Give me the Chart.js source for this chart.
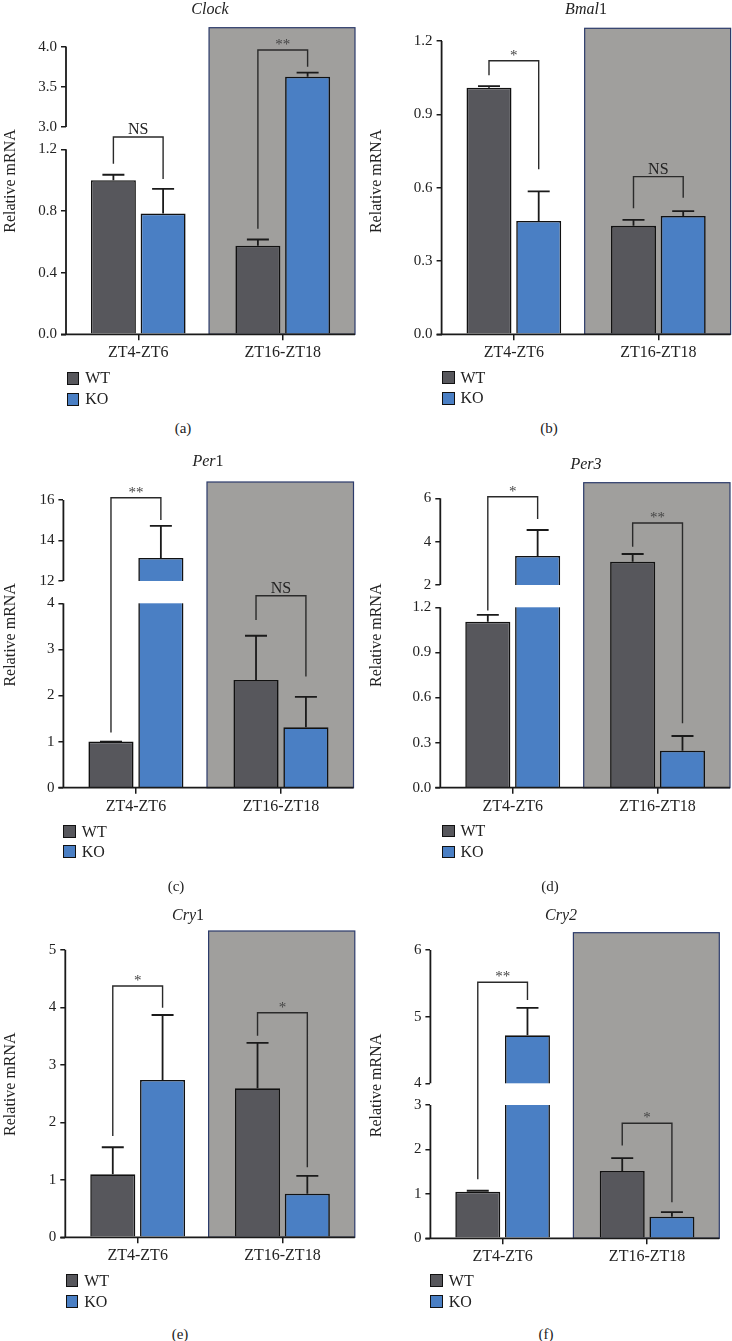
<!DOCTYPE html>
<html><head><meta charset="utf-8">
<script src="https://cdn.jsdelivr.net/npm/chart.js@4.4.0/dist/chart.umd.min.js"></script>
<style>
html,body{margin:0;padding:0;background:#fff;}
body{width:732px;height:1341px;position:relative;overflow:hidden;font-family:"Liberation Serif","Times New Roman",serif;color:#222;}
canvas{position:absolute;}
.t{position:absolute;transform:translate(-50%,-50%);white-space:nowrap;line-height:1;z-index:2;}
.ttl{font-size:16px;}
.pl{font-size:15px;}
.lg{position:absolute;display:flex;align-items:center;font-size:16px;line-height:1;transform:translateY(-50%);z-index:2;}
.sw{width:10.5px;height:10.5px;border:1px solid #111;margin-right:6px;}
</style></head><body>
<script>
// ---------- data ----------
const categories = ['ZT4-ZT6', 'ZT16-ZT18'];
const seriesNames = ['WT', 'KO'];

const clockWT = [1.00, 0.575];
const clockWTErr = [0.035, 0.04];
const clockKO = [0.783, 3.626];
const clockKOErr = [0.16, 0.05];
const clockTicks = ['0.0', '0.4', '0.8', '1.2', '3.0', '3.5', '4.0'];
const clockSig = ['NS', '**'];

const bmal1WT = [1.009, 0.444];
const bmal1WTErr = [0.006, 0.024];
const bmal1KO = [0.464, 0.484];
const bmal1KOErr = [0.121, 0.02];
const bmal1Ticks = ['0.0', '0.3', '0.6', '0.9', '1.2'];
const bmal1Sig = ['*', 'NS'];

const per1WT = [1.0, 2.336];
const per1WTErr = [0.0, 0.96];
const per1KO = [13.14, 1.31];
const per1KOErr = [1.58, 0.66];
const per1Ticks = ['0', '1', '2', '3', '4', '12', '14', '16'];
const per1Sig = ['**', 'NS'];

const per3WT = [1.104, 3.075];
const per3WTErr = [0.045, 0.355];
const per3KO = [3.338, 0.246];
const per3KOErr = [1.2, 0.098];
const per3Ticks = ['0.0', '0.3', '0.6', '0.9', '1.2', '2', '4', '6'];
const per3Sig = ['*', '**'];

const cry1WT = [1.096, 2.591];
const cry1WTErr = [0.47, 0.79];
const cry1KO = [2.736, 0.758];
const cry1KOErr = [1.13, 0.31];
const cry1Ticks = ['0', '1', '2', '3', '4', '5'];
const cry1Sig = ['*', '*'];

const cry2WT = [1.05, 1.516];
const cry2WTErr = [0.02, 0.29];
const cry2KO = [4.72, 0.487];
const cry2KOErr = [0.41, 0.1];
const cry2Ticks = ['0', '1', '2', '3', '4', '5', '6'];
const cry2Sig = ['**', '*'];

// ---------- styles / layout ----------
const WT_FILL = '#57575c';
const KO_FILL = '#4a7fc4';
const BOX_FILL = '#a09f9d';
const BOX_EDGE = '#2c3b6b';
const INK = '#1a1a1a';
const FONT = '"Liberation Serif", "Times New Roman", serif';

const panels = [
  { id: 'a', title: '<i>Clock</i>', wt: clockWT, wtErr: clockWTErr, ko: clockKO, koErr: clockKOErr, ticks: clockTicks, sig: clockSig,
    canvas: [0, 0, 366, 372], area: { x: 66, right: 355, top: 27.7, bottom: 334.3 }, max: 4.235,
    brk: { lowMax: 1.2, highMin: 3.0, lowFrac: 0.6034, highFrac: 0.6761 },
    brackets: [[2.19, 1.106, 1.008], [3.958, 0.684, 3.75]], boxFrom: 0.49,
    titlePos: [210, 9], labelPos: [183, 428], legend: [66.7, 378.3, 399.4], label: '(a)' },
  { id: 'b', title: '<i>Bmal</i>1', wt: bmal1WT, wtErr: bmal1WTErr, ko: bmal1KO, koErr: bmal1KOErr, ticks: bmal1Ticks, sig: bmal1Sig,
    canvas: [366, 0, 366, 372], area: { x: 441.6, right: 730.6, top: 28.3, bottom: 334.3 }, max: 1.252,
    brk: null,
    brackets: [[1.119, 1.060, 0.675], [0.645, 0.516, 0.559]], boxFrom: 0.49,
    titlePos: [586, 9], labelPos: [549, 428], legend: [442, 377.7, 398.3], label: '(b)' },
  { id: 'c', title: '<i>Per</i>1', wt: per1WT, wtErr: per1WTErr, ko: per1KO, koErr: per1KOErr, ticks: per1Ticks, sig: per1Sig,
    canvas: [0, 440, 366, 390], area: { x: 63.4, right: 353.5, top: 482, bottom: 787.7 }, max: 16.89,
    brk: { lowMax: 4, highMin: 12, lowFrac: 0.6032, highFrac: 0.6762 },
    brackets: [[16.11, 1.20, 15.01], [6.73, 3.64, 2.41]], boxFrom: 0.49,
    titlePos: [208, 461], labelPos: [176, 886], legend: [63.3, 831.5, 851.7], label: '(c)' },
  { id: 'd', title: '<i>Per3</i>', wt: per3WT, wtErr: per3WTErr, ko: per3KO, koErr: per3KOErr, ticks: per3Ticks, sig: per3Sig,
    canvas: [366, 440, 366, 390], area: { x: 440.3, right: 730, top: 482.7, bottom: 787.7 }, max: 6.72,
    brk: { lowMax: 1.2, highMin: 2, lowFrac: 0.5915, highFrac: 0.6646 },
    brackets: [[6.07, 1.178, 5.05], [4.86, 3.77, 0.428]], boxFrom: 0.49,
    titlePos: [586, 464], labelPos: [550, 886], legend: [442, 831, 852], label: '(d)' },
  { id: 'e', title: '<i>Cry</i>1', wt: cry1WT, wtErr: cry1WTErr, ko: cry1KO, koErr: cry1KOErr, ticks: cry1Ticks, sig: cry1Sig,
    canvas: [0, 890, 366, 390], area: { x: 65.3, right: 354.8, top: 931, bottom: 1237.3 }, max: 5.327,
    brk: null,
    brackets: [[4.37, 1.762, 3.993], [3.906, 3.506, 1.217]], boxFrom: 0.49,
    titlePos: [188, 914.5], labelPos: [180, 1334], legend: [65.7, 1280.7, 1301.7], label: '(e)' },
  { id: 'f', title: '<i>Cry2</i>', wt: cry2WT, wtErr: cry2WTErr, ko: cry2KO, koErr: cry2KOErr, ticks: cry2Ticks, sig: cry2Sig,
    canvas: [366, 890, 366, 390], area: { x: 430.4, right: 719.3, top: 932.7, bottom: 1238.3 }, max: 6.258,
    brk: { lowMax: 3, highMin: 4, lowFrac: 0.4362, highFrac: 0.5072 },
    brackets: [[5.514, 1.329, 5.25], [2.59, 2.086, 0.811]], boxFrom: 0.49,
    titlePos: [561, 914.5], labelPos: [546, 1334], legend: [430.3, 1280.7, 1301.7], label: '(f)' }
];

// ---------- broken linear scale ----------
const BRK = {};
class BrokenScale extends Chart.LinearScale {
  _dec(v) {
    const b = BRK[this.chart.canvas.id];
    const min = this.min, max = this.max;
    if (!b) return (v - min) / (max - min);
    if (v <= b.lowMax) return v / b.lowMax * b.lowFrac;
    if (v >= b.highMin) return b.highFrac + (v - b.highMin) / (max - b.highMin) * (1 - b.highFrac);
    return b.lowFrac + (v - b.lowMax) / (b.highMin - b.lowMax) * (b.highFrac - b.lowFrac);
  }
  getPixelForValue(v) { return this.getPixelForDecimal(this._dec(v)); }
  getValueForPixel(px) {
    const d = this.getDecimalForPixel(px);
    const b = BRK[this.chart.canvas.id];
    if (!b) return this.min + d * (this.max - this.min);
    if (d <= b.lowFrac) return d / b.lowFrac * b.lowMax;
    if (d >= b.highFrac) return b.highMin + (d - b.highFrac) / (1 - b.highFrac) * (this.max - b.highMin);
    return b.lowMax + (d - b.lowFrac) / (b.highFrac - b.lowFrac) * (b.highMin - b.lowMax);
  }
}
BrokenScale.id = 'broken';
BrokenScale.defaults = Chart.LinearScale.defaults;
Chart.register(BrokenScale);

Chart.defaults.font.family = FONT;
Chart.defaults.color = '#222';

function addText(cls, html, x, y) {
  const d = document.createElement('div');
  d.className = 't ' + cls;
  d.innerHTML = html;
  d.style.left = x + 'px'; d.style.top = y + 'px';
  document.body.appendChild(d);
}
function addLegend(x, y, name, color) {
  const d = document.createElement('div');
  d.className = 'lg';
  d.style.left = x + 'px'; d.style.top = y + 'px';
  const s = document.createElement('span'); s.className = 'sw'; s.style.background = color;
  d.appendChild(s);
  d.appendChild(document.createTextNode(name));
  document.body.appendChild(d);
}

function makePanel(p) {
  const [cx, cy, w, h] = p.canvas;
  const cv = document.createElement('canvas');
  cv.id = 'cv_' + p.id;
  cv.width = w; cv.height = h;
  cv.style.left = cx + 'px'; cv.style.top = cy + 'px';
  cv.style.width = w + 'px'; cv.style.height = h + 'px';
  document.body.appendChild(cv);
  BRK[cv.id] = p.brk;
  const tickVals = p.ticks.map(Number);
  const lastTick = tickVals[tickVals.length - 1];

  const drawBox = (chart) => {
    const { ctx, chartArea: a, scales: { x } } = chart;
    const bl = x.getPixelForValue(p.boxFrom);
    ctx.save();
    ctx.strokeStyle = BOX_EDGE; ctx.lineWidth = 1.2;
    ctx.strokeRect(bl, a.top, a.right - bl, a.bottom - a.top);
    ctx.restore();
  };

  const deco = {
    id: 'deco_' + p.id,
    beforeDatasetsDraw(chart) {
      const { ctx, chartArea: a, scales: { x } } = chart;
      const bl = x.getPixelForValue(p.boxFrom);
      ctx.save();
      ctx.fillStyle = BOX_FILL;
      ctx.fillRect(bl, a.top, a.right - bl, a.bottom - a.top);
      ctx.restore();
      drawBox(chart);
    },
    afterDatasetsDraw(chart) {
      const { ctx, chartArea: a, scales: { x, y } } = chart;
      const bl = x.getPixelForValue(p.boxFrom);
      ctx.save();
      if (p.brk) {
        const y1 = y.getPixelForValue(p.brk.highMin), y2 = y.getPixelForValue(p.brk.lowMax);
        ctx.fillStyle = '#fff';
        ctx.fillRect(a.left + 1, y1, bl - a.left - 2.5, y2 - y1);
      }
      // error bars
      ctx.strokeStyle = INK; ctx.lineWidth = 1.8;
      [[p.wt, p.wtErr], [p.ko, p.koErr]].forEach(([vals, errs], di) => {
        chart.getDatasetMeta(di).data.forEach((el, j) => {
          const yt = y.getPixelForValue(vals[j]);
          const yc = y.getPixelForValue(vals[j] + errs[j]);
          ctx.beginPath();
          ctx.moveTo(el.x, yt); ctx.lineTo(el.x, yc);
          ctx.moveTo(el.x - 11, yc); ctx.lineTo(el.x + 11, yc);
          ctx.stroke();
        });
      });
      // significance brackets
      const m0 = chart.getDatasetMeta(0).data, m1 = chart.getDatasetMeta(1).data;
      ctx.strokeStyle = '#2a2a2a'; ctx.lineWidth = 1.4;
      p.brackets.forEach((br, j) => {
        const lx = m0[j].x, rx = m1[j].x;
        const ty = y.getPixelForValue(br[0]);
        ctx.beginPath();
        ctx.moveTo(lx, y.getPixelForValue(br[1]));
        ctx.lineTo(lx, ty); ctx.lineTo(rx, ty);
        ctx.lineTo(rx, y.getPixelForValue(br[2]));
        ctx.stroke();
        const lab = p.sig[j];
        ctx.textAlign = 'center'; ctx.textBaseline = 'alphabetic';
        if (lab === 'NS') {
          ctx.fillStyle = '#222'; ctx.font = '16px ' + FONT;
          ctx.fillText(lab, (lx + rx) / 2, ty - 3);
        } else {
          ctx.fillStyle = '#444'; ctx.font = '15px ' + FONT;
          ctx.fillText(lab, (lx + rx) / 2, ty - 1);
        }
      });
      // axis lines
      ctx.strokeStyle = INK; ctx.lineWidth = 1.8;
      ctx.beginPath();
      ctx.moveTo(a.left - 5, a.bottom); ctx.lineTo(a.right, a.bottom);
      if (p.brk) {
        ctx.moveTo(a.left, y.getPixelForValue(0)); ctx.lineTo(a.left, y.getPixelForValue(p.brk.lowMax));
        ctx.moveTo(a.left, y.getPixelForValue(p.brk.highMin)); ctx.lineTo(a.left, y.getPixelForValue(lastTick));
      } else {
        ctx.moveTo(a.left, y.getPixelForValue(0)); ctx.lineTo(a.left, y.getPixelForValue(lastTick));
      }
      ctx.stroke();
      ctx.restore();
    }
  };

  new Chart(cv, {
    type: 'bar',
    data: {
      labels: categories,
      datasets: [
        { label: seriesNames[0], data: p.wt, backgroundColor: WT_FILL, borderColor: '#111', borderWidth: 1.6,
          categoryPercentage: 0.688, barPercentage: 0.905 },
        { label: seriesNames[1], data: p.ko, backgroundColor: KO_FILL, borderColor: '#111', borderWidth: 1.6,
          categoryPercentage: 0.688, barPercentage: 0.905 }
      ]
    },
    options: {
      responsive: false, animation: false, devicePixelRatio: 1,
      layout: { padding: { left: 0, top: p.area.top - cy, right: cx + w - p.area.right, bottom: 0 } },
      plugins: { legend: { display: false }, tooltip: { enabled: false }, title: { display: false } },
      scales: {
        x: {
          type: 'category', offset: true,
          grid: { offset: false, drawOnChartArea: false, drawTicks: true, tickLength: 6, color: INK, lineWidth: 1.5 },
          border: { display: false },
          ticks: { font: { size: 16, family: FONT }, color: '#222', padding: 3, maxRotation: 0, autoSkip: false },
          afterFit: s => { s.height = cy + h - p.area.bottom; }
        },
        y: {
          type: 'broken', min: 0, max: p.max, bounds: 'data',
          grid: { drawOnChartArea: false, drawTicks: true, tickLength: 5, color: INK, lineWidth: 1.5 },
          border: { display: false },
          ticks: { font: { size: 15, family: FONT }, color: '#222', padding: 4, autoSkip: false,
                   callback: (v, i) => p.ticks[i] },
          afterBuildTicks: s => { s.ticks = tickVals.map(v => ({ value: v })); },
          title: { display: true, text: 'Relative mRNA', font: { size: 16, family: FONT }, color: '#222', padding: { top: 1, bottom: 0 } },
          afterFit: s => { s.width = p.area.x - cx; }
        }
      }
    },
    plugins: [deco]
  });

  addText('ttl', p.title, p.titlePos[0], p.titlePos[1]);
  addText('pl', p.label, p.labelPos[0], p.labelPos[1]);
  addLegend(p.legend[0], p.legend[1], seriesNames[0], WT_FILL);
  addLegend(p.legend[0], p.legend[2], seriesNames[1], KO_FILL);
}

panels.forEach(makePanel);
</script>
</body></html>
